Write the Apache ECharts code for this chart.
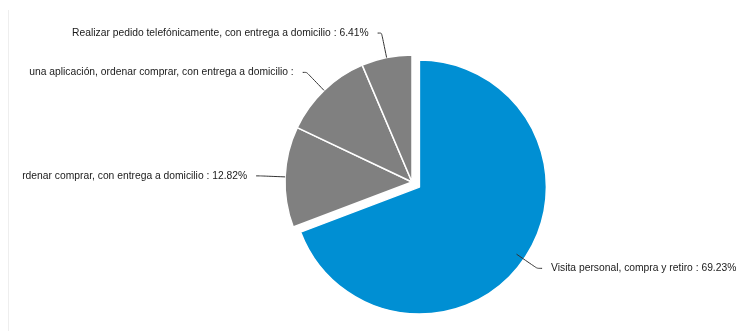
<!DOCTYPE html>
<html>
<head>
<meta charset="utf-8">
<script src="https://cdn.jsdelivr.net/npm/echarts@6/dist/echarts.min.js"></script>
<style>
  html, body { margin: 0; padding: 0; background: #fff; }
  #chart { width: 737px; height: 331px; }
</style>
</head>
<body>
<div id="chart"></div>
<script>
// Purchase channel shares (percent)
const categories = [
  'Visita personal, compra y retiro',
  'rdenar comprar, con entrega a domicilio',
  'una aplicación, ordenar comprar, con entrega a domicilio',
  'Realizar pedido telefónicamente, con entrega a domicilio'
];
const shares = [69.23, 12.82, 11.54, 6.41];
const sliceColors = ['#008fd3', '#808080', '#808080', '#808080'];
const showValue = [true, true, false, true];

const chart = echarts.init(document.getElementById('chart'));

const pieCenter = [412, 182];
const pieRadius = 127;

// Slices: the first one is pulled out of the pie
const sliceData = categories.map((name, i) => ({
  name: name,
  value: shares[i],
  selected: i === 0,
  itemStyle: { color: sliceColors[i] }
}));

// Labels are laid out on the un-offset pie so their leader lines
// start from the original rim
const labelData = categories.map((name, i) => ({
  name: name,
  value: shares[i],
  label: {
    formatter: showValue[i]
      ? (p) => p.name + ' : ' + p.value.toFixed(2) + '%'
      : (p) => p.name + ' :'
  },
  labelLine: i === 0 ? { length: 25, length2: 5 } : {}
}));

chart.setOption({
  animation: false,
  graphic: [{
    type: 'line',
    shape: { x1: 8.5, y1: 10, x2: 8.5, y2: 331 },
    style: { stroke: '#eeeeee', lineWidth: 1 }
  }],
  series: [{
    type: 'pie',
    center: pieCenter,
    radius: pieRadius,
    startAngle: 90,
    clockwise: true,
    selectedMode: 'single',
    selectedOffset: 9,
    itemStyle: { borderColor: '#ffffff', borderWidth: 1.5 },
    label: { show: false },
    labelLine: { show: false },
    emphasis: { disabled: true },
    silent: true,
    data: sliceData
  }, {
    type: 'pie',
    center: pieCenter,
    radius: pieRadius,
    startAngle: 90,
    clockwise: true,
    selectedMode: false,
    avoidLabelOverlap: false,
    itemStyle: { color: 'rgba(0,0,0,0)', borderWidth: 0 },
    label: {
      show: true,
      color: '#1a1a1a',
      fontFamily: 'Liberation Sans, Arial, sans-serif',
      fontSize: 10.3,
      overflow: 'none',
      bleedMargin: 0,
      distanceToLabelLine: 9
    },
    labelLine: {
      show: true,
      length: 25,
      length2: 4,
      smooth: 0.2,
      lineStyle: { color: '#333333', width: 1 }
    },
    emphasis: { disabled: true },
    silent: true,
    z: 3,
    data: labelData
  }]
});
</script>
</body>
</html>
